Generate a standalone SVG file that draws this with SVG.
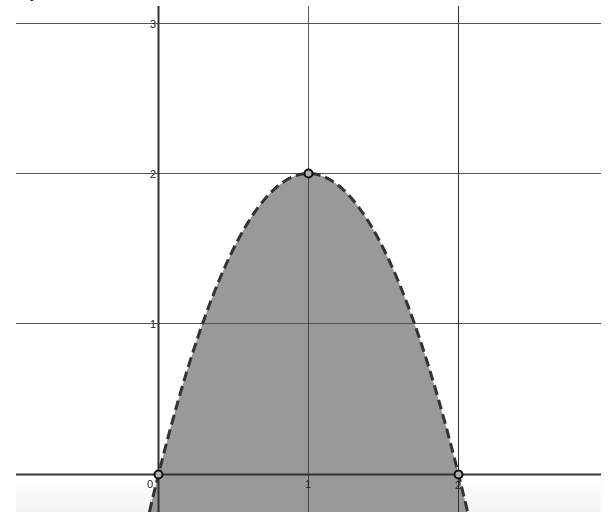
<svg xmlns="http://www.w3.org/2000/svg" width="608" height="512" viewBox="0 0 608 512">
<defs>
<linearGradient id="strip" x1="0" y1="0" x2="0" y2="1">
<stop offset="0" stop-color="#ffffff"/>
<stop offset="1" stop-color="#f2f2f2"/>
</linearGradient>
<style>
.grid{stroke:#555;stroke-width:1;fill:none}
.vgrid{stroke:#333;stroke-width:1;fill:none}
.axis{stroke:#333;stroke-width:2;fill:none}
.lbl{font-family:"Liberation Sans",Arial,sans-serif;font-size:11px;fill:#222}
.pt{fill:#b0b0b0;stroke:#111;stroke-width:2}
</style>
</defs>
<rect width="608" height="512" fill="#ffffff"/>
<rect x="16" y="478" width="585" height="34" fill="url(#strip)"/>
<text x="30" y="-3" font-family="Liberation Sans,Arial,sans-serif" font-size="18" fill="#111">y</text>
<g id="region">
<path d="M149.4,512 Q308.5,-165 467.6,512 Z" fill="#999999"/>
</g>
<g id="grid">
<line class="grid" x1="16" y1="23.5" x2="601" y2="23.5"/>
<line class="grid" x1="16" y1="173.5" x2="601" y2="173.5"/>
<line class="grid" x1="16" y1="323.5" x2="601" y2="323.5"/>
<line class="axis" x1="16" y1="474.5" x2="601" y2="474.5"/>
<line class="axis" x1="158.5" y1="6" x2="158.5" y2="512"/>
<line class="vgrid" x1="308.5" y1="6" x2="308.5" y2="512" stroke-opacity="0.8"/>
<line class="vgrid" x1="458.5" y1="6" x2="458.5" y2="512"/>
</g>
<g id="curve">
<path d="M149.4,512 Q308.5,-165 467.6,512" fill="none" stroke="#333" stroke-width="3" stroke-dasharray="10,5"/>
</g>
<g id="labels">
<text class="lbl" x="156" y="27.5" text-anchor="end">3</text>
<text class="lbl" x="156" y="177.5" text-anchor="end">2</text>
<text class="lbl" x="156" y="327.5" text-anchor="end">1</text>
<text class="lbl" x="150" y="488" text-anchor="middle">0</text>
<text class="lbl" x="308" y="488" text-anchor="middle">1</text>
<text class="lbl" x="458" y="489" text-anchor="middle">2</text>
</g>
<g id="p0"><circle class="pt" cx="158.5" cy="474.5" r="4"/></g>
<g id="p1"><circle class="pt" cx="308.5" cy="173.5" r="4"/></g>
<g id="p2"><circle class="pt" cx="458.5" cy="474.5" r="4"/></g>
</svg>
